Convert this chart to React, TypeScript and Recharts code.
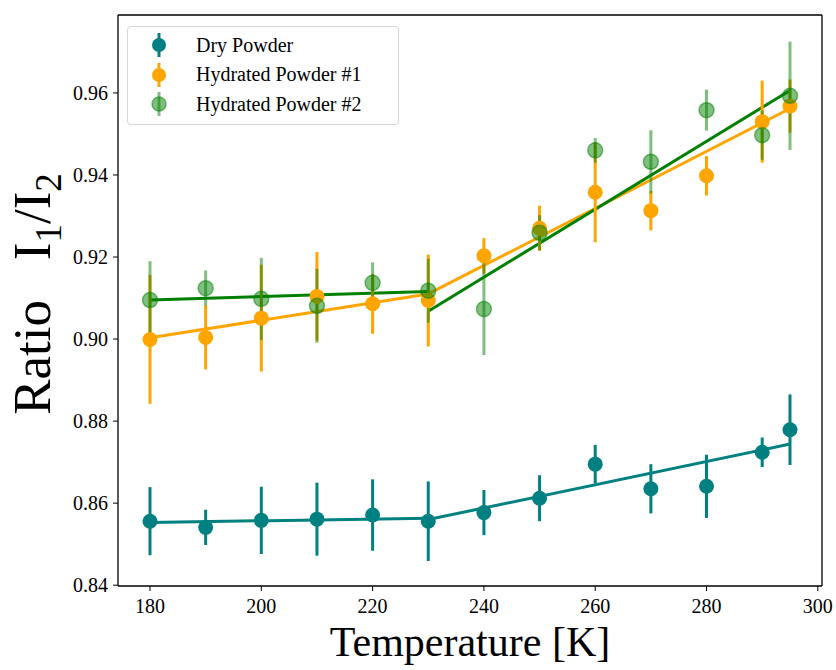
import { ComposedChart, Scatter, Line, XAxis, YAxis, ErrorBar, ReferenceLine } from 'recharts'

const temps = [180, 190, 200, 210, 220, 230, 240, 250, 260, 270, 280, 290, 295]

const dryRatio = [0.8556, 0.8541, 0.8558, 0.8561, 0.8571, 0.8556, 0.8577, 0.8612, 0.8695, 0.8635, 0.8641, 0.8724, 0.8779]
const dryErr = [0.0083, 0.0043, 0.0082, 0.0089, 0.0087, 0.0097, 0.0055, 0.0056, 0.0047, 0.006, 0.0077, 0.0036, 0.0086]

const hyd1Ratio = [0.8999, 0.9004, 0.9051, 0.9104, 0.9086, 0.9094, 0.9203, 0.927, 0.9358, 0.9313, 0.9398, 0.953, 0.9568]
const hyd1Err = [0.0157, 0.0078, 0.013, 0.0108, 0.0073, 0.0112, 0.0043, 0.0055, 0.0122, 0.0048, 0.0048, 0.01, 0.0065]

const hyd2Ratio = [0.9095, 0.9124, 0.9098, 0.9081, 0.9137, 0.9118, 0.9073, 0.9259, 0.946, 0.9432, 0.9558, 0.9497, 0.9593]
const hyd2Err = [0.0095, 0.0043, 0.01, 0.009, 0.005, 0.0078, 0.0112, 0.0043, 0.003, 0.0077, 0.005, 0.006, 0.0132]

// piecewise linear fits, below / above 230 K
const dryFitLow = [{ T: 180, r: 0.8553 }, { T: 230, r: 0.8563 }]
const dryFitHigh = [{ T: 230, r: 0.856 }, { T: 295, r: 0.8744 }]
const hyd1FitLow = [{ T: 180, r: 0.9003 }, { T: 230, r: 0.911 }]
const hyd1FitHigh = [{ T: 230, r: 0.911 }, { T: 295, r: 0.9562 }]
const hyd2FitLow = [{ T: 180, r: 0.9095 }, { T: 230, r: 0.9116 }]
const hyd2FitHigh = [{ T: 230, r: 0.9068 }, { T: 295, r: 0.9606 }]

const xTicks = [180, 200, 220, 240, 260, 280, 300]
const yTicks = [0.84, 0.86, 0.88, 0.9, 0.92, 0.94, 0.96]
const xDomain = [174.25, 300.75]
const yDomain = [0.8398, 0.979]

const TEAL = '#008080'
const ORANGE = '#FFA500'
const GREEN = '#008000'
const FONT = 'Liberation Serif'

const toPoints = (ratio: number[], err: number[]) =>
  temps.map((T, i) => ({ T, r: ratio[i], err: err[i] }))

const dryData = toPoints(dryRatio, dryErr)
const hyd1Data = toPoints(hyd1Ratio, hyd1Err)
const hyd2Data = toPoints(hyd2Ratio, hyd2Err)

const dot = (color: string, faded = false) => (props: any) => {
  const { cx, cy } = props
  if (cx == null || cy == null) return null
  return faded ? (
    <circle cx={cx} cy={cy} r={7.5} fill={color} fillOpacity={0.5} stroke={color} strokeOpacity={0.5} strokeWidth={1.5} />
  ) : (
    <circle cx={cx} cy={cy} r={7.5} fill={color} />
  )
}

function XTick({ x, y, payload }: any) {
  return (
    <text x={x} y={y} dy="0.75em" textAnchor="middle" fontFamily={FONT} fontSize={20} fill="#000">
      {payload.value}
    </text>
  )
}

function YTick({ x, y, payload }: any) {
  return (
    <text x={x} y={y} dy="0.35em" textAnchor="end" fontFamily={FONT} fontSize={20} fill="#000">
      {Number(payload.value).toFixed(2)}
    </text>
  )
}

function YTitle() {
  return (
    <text x={50} y={294} transform="rotate(-90, 50, 294)" textAnchor="middle" fontFamily={FONT} fontSize={53} fill="#000">
      Ratio{'\u2002 '}I<tspan dy={11} fontSize={37}>1</tspan>
      <tspan dy={-11}>/I</tspan>
      <tspan dy={11} fontSize={37}>2</tspan>
    </text>
  )
}

function XTitle() {
  return (
    <text x={470} y={656} textAnchor="middle" fontFamily={FONT} fontSize={42} fill="#000">
      Temperature [K]
    </text>
  )
}

const legendItems = [
  { label: 'Dry Powder', color: TEAL, faded: false },
  { label: 'Hydrated Powder #1', color: ORANGE, faded: false },
  { label: 'Hydrated Powder #2', color: GREEN, faded: true },
]

function LegendBox() {
  return (
    <div
      style={{
        position: 'absolute', left: 127, top: 26, width: 270, height: 97,
        border: '1px solid #d6d6d6', borderRadius: 4, background: 'rgba(255,255,255,0.8)',
        fontFamily: FONT, fontSize: 20,
      }}
    >
      {legendItems.map((it, i) => (
        <div key={it.label} style={{ position: 'absolute', left: 20, top: 5 + i * 29.5, height: 26, display: 'flex', alignItems: 'center' }}>
          <svg width={22} height={26}>
            <line x1={11} y1={1} x2={11} y2={25} stroke={it.color} strokeWidth={3} strokeOpacity={it.faded ? 0.5 : 1} />
            <circle cx={11} cy={13} r={7} fill={it.color} fillOpacity={it.faded ? 0.5 : 1}
              stroke={it.color} strokeOpacity={it.faded ? 0.5 : 0} strokeWidth={1.5} />
          </svg>
          <span style={{ marginLeft: 26, whiteSpace: 'nowrap', fontFamily: FONT }}>{it.label}</span>
        </div>
      ))}
    </div>
  )
}

const axisLine = { stroke: '#000', strokeWidth: 1.3 }

export default function App() {
  return (
    <div style={{ position: 'absolute', left: 0, top: 0, width: 836, height: 670, background: '#fff', fontFamily: FONT }}>
      <ComposedChart width={836} height={670} margin={{ top: 15, right: 14, bottom: 4, left: 0 }}>
        <XAxis
          xAxisId="b" dataKey="T" type="number" domain={xDomain} ticks={xTicks}
          height={80} tickSize={5} tickMargin={7} axisLine={axisLine} tickLine={{ stroke: '#000' }}
          tick={<XTick />} allowDataOverflow label={{ content: () => <XTitle /> }}
        />
        <YAxis
          yAxisId="l" dataKey="r" type="number" domain={yDomain} ticks={yTicks}
          width={118} tickSize={5} tickMargin={5} axisLine={axisLine} tickLine={{ stroke: '#000' }}
          tick={<YTick />} allowDataOverflow label={{ content: () => <YTitle /> }}
        />
        <ReferenceLine xAxisId="b" yAxisId="l" y={yDomain[1]} stroke="#000" strokeWidth={1.3} ifOverflow="visible" />
        <ReferenceLine xAxisId="b" yAxisId="l" x={xDomain[1]} stroke="#000" strokeWidth={1.3} ifOverflow="visible" />

        <Line xAxisId="b" yAxisId="l" data={dryFitLow} dataKey="r" stroke={TEAL} strokeWidth={3} dot={false} isAnimationActive={false} />
        <Line xAxisId="b" yAxisId="l" data={dryFitHigh} dataKey="r" stroke={TEAL} strokeWidth={3} dot={false} isAnimationActive={false} />
        <Line xAxisId="b" yAxisId="l" data={hyd1FitLow} dataKey="r" stroke={ORANGE} strokeWidth={3} dot={false} isAnimationActive={false} />
        <Line xAxisId="b" yAxisId="l" data={hyd1FitHigh} dataKey="r" stroke={ORANGE} strokeWidth={3} dot={false} isAnimationActive={false} />
        <Line xAxisId="b" yAxisId="l" data={hyd2FitLow} dataKey="r" stroke={GREEN} strokeWidth={3} dot={false} isAnimationActive={false} />
        <Line xAxisId="b" yAxisId="l" data={hyd2FitHigh} dataKey="r" stroke={GREEN} strokeWidth={3} dot={false} isAnimationActive={false} />

        <Scatter xAxisId="b" yAxisId="l" data={dryData} dataKey="r" shape={dot(TEAL)} isAnimationActive={false}>
          <ErrorBar dataKey="err" direction="y" width={0} stroke={TEAL} strokeWidth={3} isAnimationActive={false} />
        </Scatter>
        <Scatter xAxisId="b" yAxisId="l" data={hyd1Data} dataKey="r" shape={dot(ORANGE)} isAnimationActive={false}>
          <ErrorBar dataKey="err" direction="y" width={0} stroke={ORANGE} strokeWidth={3} isAnimationActive={false} />
        </Scatter>
        <Scatter xAxisId="b" yAxisId="l" data={hyd2Data} dataKey="r" shape={dot(GREEN, true)} isAnimationActive={false}>
          <ErrorBar dataKey="err" direction="y" width={0} stroke={GREEN} strokeOpacity={0.5} strokeWidth={3} isAnimationActive={false} />
        </Scatter>
      </ComposedChart>
      <LegendBox />
    </div>
  )
}
